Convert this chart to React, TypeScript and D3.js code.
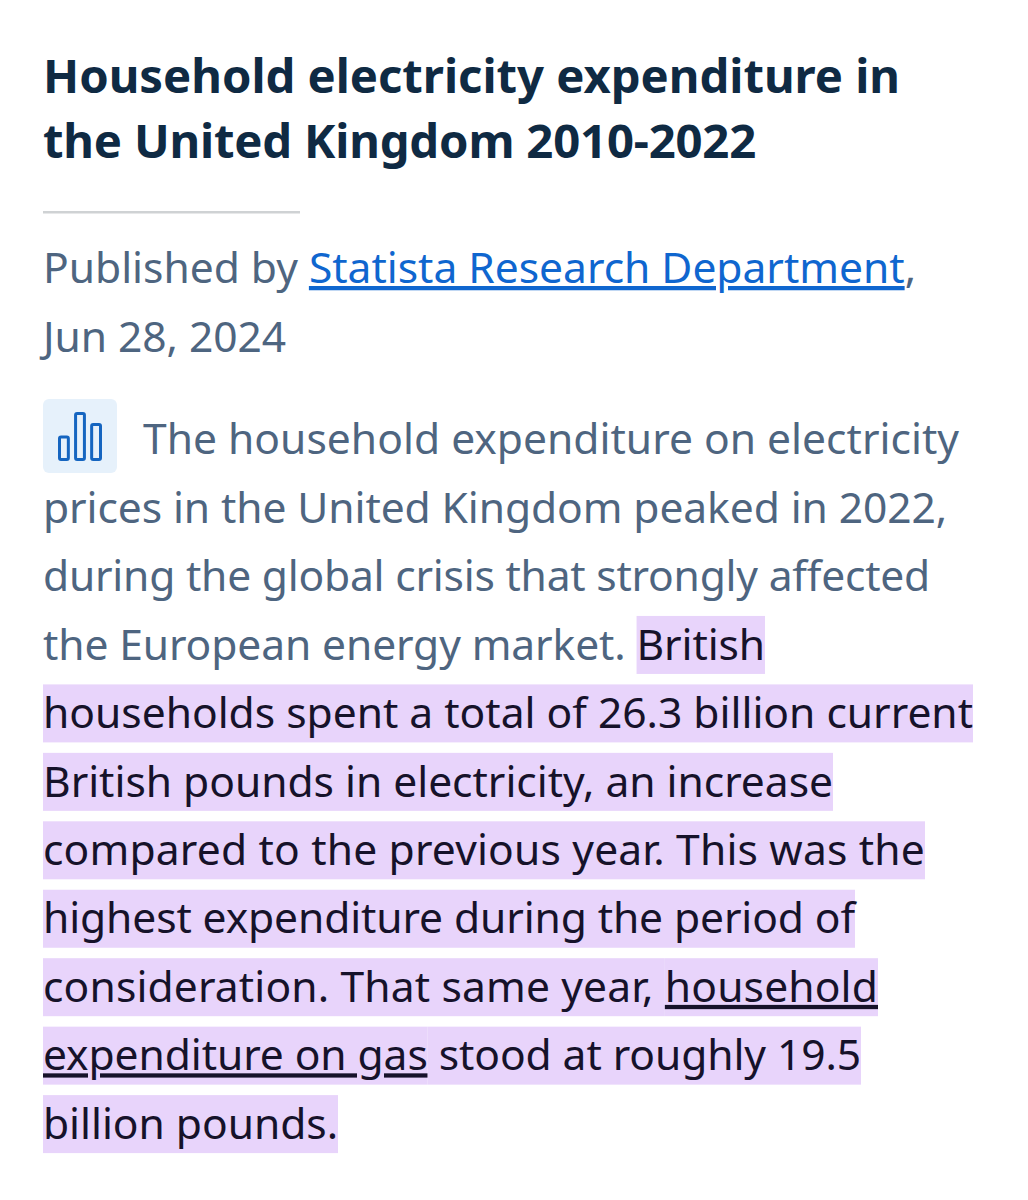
import { useEffect, useRef } from "react"
import * as d3 from "d3"

const titleLines = ["Household electricity expenditure in", "the United Kingdom 2010-2022"]

// one row per line of text: pieces with a kind
type Piece = { text: string; kind: "plain" | "link" | "mark" | "markLink" }
const publishedLines: Piece[][] = [
  [{ text: "Published by ", kind: "plain" }, { text: "Statista Research Department", kind: "link" }, { text: ",", kind: "plain" }],
  [{ text: "Jun 28, 2024", kind: "plain" }],
]
const bodyLines: Piece[][] = [
  [{ text: "The household expenditure on electricity", kind: "plain" }],
  [{ text: "prices in the United Kingdom peaked in 2022,", kind: "plain" }],
  [{ text: "during the global crisis that strongly affected", kind: "plain" }],
  [{ text: "the European energy market. ", kind: "plain" }, { text: "British", kind: "mark" }],
  [{ text: "households spent a total of 26.3 billion current", kind: "mark" }],
  [{ text: "British pounds in electricity, an increase", kind: "mark" }],
  [{ text: "compared to the previous year. This was the", kind: "mark" }],
  [{ text: "highest expenditure during the period of", kind: "mark" }],
  [{ text: "consideration. That same year, ", kind: "mark" }, { text: "household", kind: "markLink" }],
  [{ text: "expenditure on gas", kind: "markLink" }, { text: " stood at roughly 19.5", kind: "mark" }],
  [{ text: "billion pounds.", kind: "mark" }],
]
const iconBars = [0.49, 1, 0.76]

// right edge of each line in the page, the screenshot's font metrics differ a little
const titleEnds = [900, 756]
const publishedEnds = [916, 286]
const bodyEnds = [959, 947, 930, 765, 973, 833, 925, 855, 878, 861, 338]

const FONT = "'Noto Sans', 'Open Sans', sans-serif"

export default function App() {
  const svgRef = useRef<SVGSVGElement>(null)

  useEffect(() => {
    const svg = d3.select(svgRef.current)
    svg.selectAll("*").remove()

    svg.append("rect").attr("width", 1028).attr("height", 1200).attr("fill", "#ffffff")

    // title
    titleLines.forEach((t, i) => {
      const node = svg.append("text")
        .attr("x", 43).attr("y", 93 + i * 65)
        .attr("font-family", FONT).attr("font-weight", 700).attr("font-size", 47.27)
        .attr("fill", "#0f2a43").text(t)
      const w = (node.node() as SVGTextElement).getComputedTextLength()
      node.style("letter-spacing", `${(titleEnds[i] - 43 - w) / t.length}px`)
    })

    svg.append("rect").attr("x", 43).attr("y", 211).attr("width", 257).attr("height", 2.5).attr("fill", "#cfd2d4")

    const colors = { plain: "#4e6580", link: "#0f66cf", mark: "#16122a", markLink: "#16122a" }

    const drawRow = (row: Piece[], startX: number, baseline: number, endX: number) => {
      // natural width of the row first, then spread the difference over its letters
      const probe = svg.append("text")
        .style("white-space", "pre")
        .attr("font-family", FONT).attr("font-size", 42.56)
        .text(row.map((p) => p.text).join(""))
      const natural = (probe.node() as SVGTextElement).getComputedTextLength()
      probe.remove()
      const chars = row.reduce((n, p) => n + p.text.length, 0)
      const spacing = (endX - startX - natural) / chars

      let x = startX
      row.forEach((p) => {
        const isMark = p.kind === "mark" || p.kind === "markLink"
        const bg = isMark ? svg.append("rect") : null
        const node = svg.append("text")
          .attr("x", x).attr("y", baseline)
          .style("white-space", "pre")
          .style("letter-spacing", `${spacing}px`)
          .attr("font-family", FONT).attr("font-size", 42.56)
          .attr("fill", colors[p.kind]).text(p.text)
        if (p.kind === "link" || p.kind === "markLink") {
          node.style("text-decoration", "underline")
            .style("text-decoration-thickness", "3.2px")
            .style("text-underline-offset", "4px")
            .style("text-decoration-skip-ink", "auto")
        }
        const w = (node.node() as SVGTextElement).getComputedTextLength()
        if (bg) {
          bg.attr("x", x).attr("y", baseline - 43.7).attr("width", w).attr("height", 58).attr("fill", "#e8d4fb")
        }
        x += w
      })
    }

    publishedLines.forEach((row, i) => drawRow(row, 43, 283 + i * 69, publishedEnds[i]))
    bodyLines.forEach((row, i) => drawRow(row, i === 0 ? 143 : 43, 454.3 + i * 68.45, bodyEnds[i]))

    // little chart icon
    const icon = svg.append("g")
    icon.append("rect").attr("x", 43).attr("y", 399).attr("width", 74).attr("height", 74).attr("rx", 6).attr("fill", "#e6f1fb")
    const xs = d3.scaleBand<number>().domain(iconBars.map((_, i) => i)).range([59.5, 100.5]).paddingInner(0.45)
    const ys = d3.scaleLinear().domain([0, 1]).range([459.5, 413.5])
    iconBars.forEach((v, i) => {
      icon.append("rect")
        .attr("x", xs(i)!).attr("y", ys(v))
        .attr("width", xs.bandwidth()).attr("height", 459.5 - ys(v))
        .attr("rx", 1.5).attr("fill", "none").attr("stroke", "#1565c0").attr("stroke-width", 3)
    })
  }, [])

  return <svg ref={svgRef} width={1028} height={1200} style={{ position: "absolute", left: 0, top: 0 }} />
}
